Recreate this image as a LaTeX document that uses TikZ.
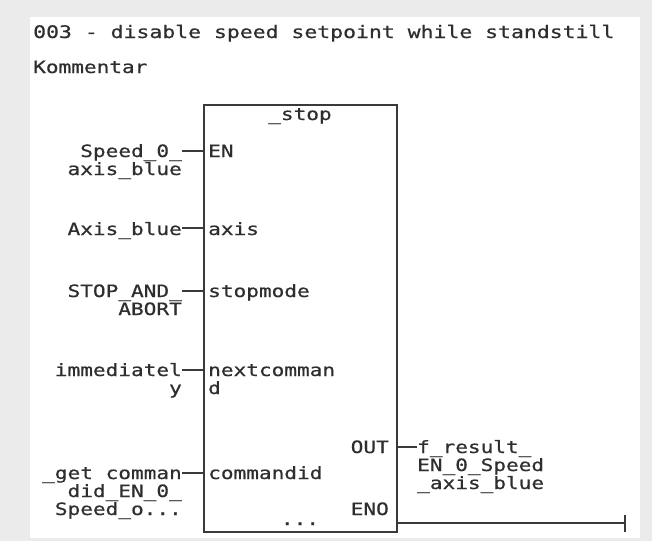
\documentclass[tikz,border=0pt]{standalone}
\usepackage{fontspec}
\usetikzlibrary{positioning}
\newfontfamily\plcfont[FakeStretch=1.24,FakeBold=0.6]{DejaVu Sans Mono}
\definecolor{frame}{HTML}{EBEBEB}
\definecolor{ink}{HTML}{2E2E2E}
\definecolor{wire}{HTML}{3A3A3A}

\begin{document}
\begin{tikzpicture}[x=1pt,y=-1pt,
  txt/.style={inner sep=0pt,text=ink,font=\plcfont\fontsize{17}{18}\selectfont},
  inlbl/.style={txt,anchor=base east,align=right},
  pinl/.style={txt,anchor=base west,align=left},
  pinr/.style={txt,anchor=base east,align=right},
  wireline/.style={draw=wire,line width=1.4pt}]
\useasboundingbox (0,0) rectangle (652,541);
\fill[frame] (0,0) rectangle (652,541);
\fill[white] (30,17) rectangle (640,538);
% title and comment
\node[txt,anchor=base west,font=\plcfont\fontsize{17.3}{18}\selectfont] (title) at (33,38){003 - disable speed setpoint while standstill};
\node[txt,anchor=base west] (comment) at (33,73){Kommentar};
% function block
\node[draw=wire,line width=1.6pt,minimum width=193pt,minimum height=427pt,inner sep=0pt,anchor=north west] (fb) at (203,104){};
\node[txt,anchor=base] (fbname) at (300,120){\_stop};
\node[txt,anchor=base] (more) at (300,525){...};
% pin rows (multi-line nodes sit on their last line)
\coordinate (pEN) at (203,151);\coordinate (pAxis) at (203,228);\coordinate (pMode) at (203,291);\coordinate (pNext) at (203,370);\coordinate (pCmd) at (203,473);
\coordinate (pOut) at (396,447);\coordinate (pEno) at (396,523);\coordinate (enoEnd) at (625,523);
% inputs
\node[pinl] (en) at (208,157){EN};
\node[pinl] (axis) at (208,235){axis};
\node[pinl] (mode) at (208,297){stopmode};
\node[pinl] (next) at (208,394){nextcomman\\d};
\node[pinl] (cmd) at (208,479){commandid};
\node[inlbl] (vEN) at (182,175){Speed\_0\_\\axis\_blue};
\node[inlbl] (vAxis) at (182,235){Axis\_blue};
\node[inlbl] (vMode) at (182,315){STOP\_AND\_\\ABORT};
\node[inlbl] (vNext) at (182,394){immediatel\\y};
\node[inlbl] (vCmd) at (182,515){\_get comman\\did\_EN\_0\_\\Speed\_o...};
% outputs
\node[pinr] (out) at (389,453){OUT};
\node[pinr] (eno) at (389,515){ENO};
\node[pinl] (vOut) at (417,489){f\_result\_\\EN\_0\_Speed\\\_axis\_blue};
% wires
\draw[wireline] (pEN -| vEN.east) -- (pEN);\draw[wireline] (pAxis -| vAxis.east) -- (pAxis);\draw[wireline] (pMode -| vMode.east) -- (pMode);\draw[wireline] (pNext -| vNext.east) -- (pNext);\draw[wireline] (pCmd -| vCmd.east) -- (pCmd);
\draw[wireline] (pOut) -- (pOut -| vOut.west);
\draw[wireline] (pEno) -- (enoEnd);\draw[wireline] (enoEnd) ++(0,-8) -- ++(0,17);
\end{tikzpicture}
\end{document}
